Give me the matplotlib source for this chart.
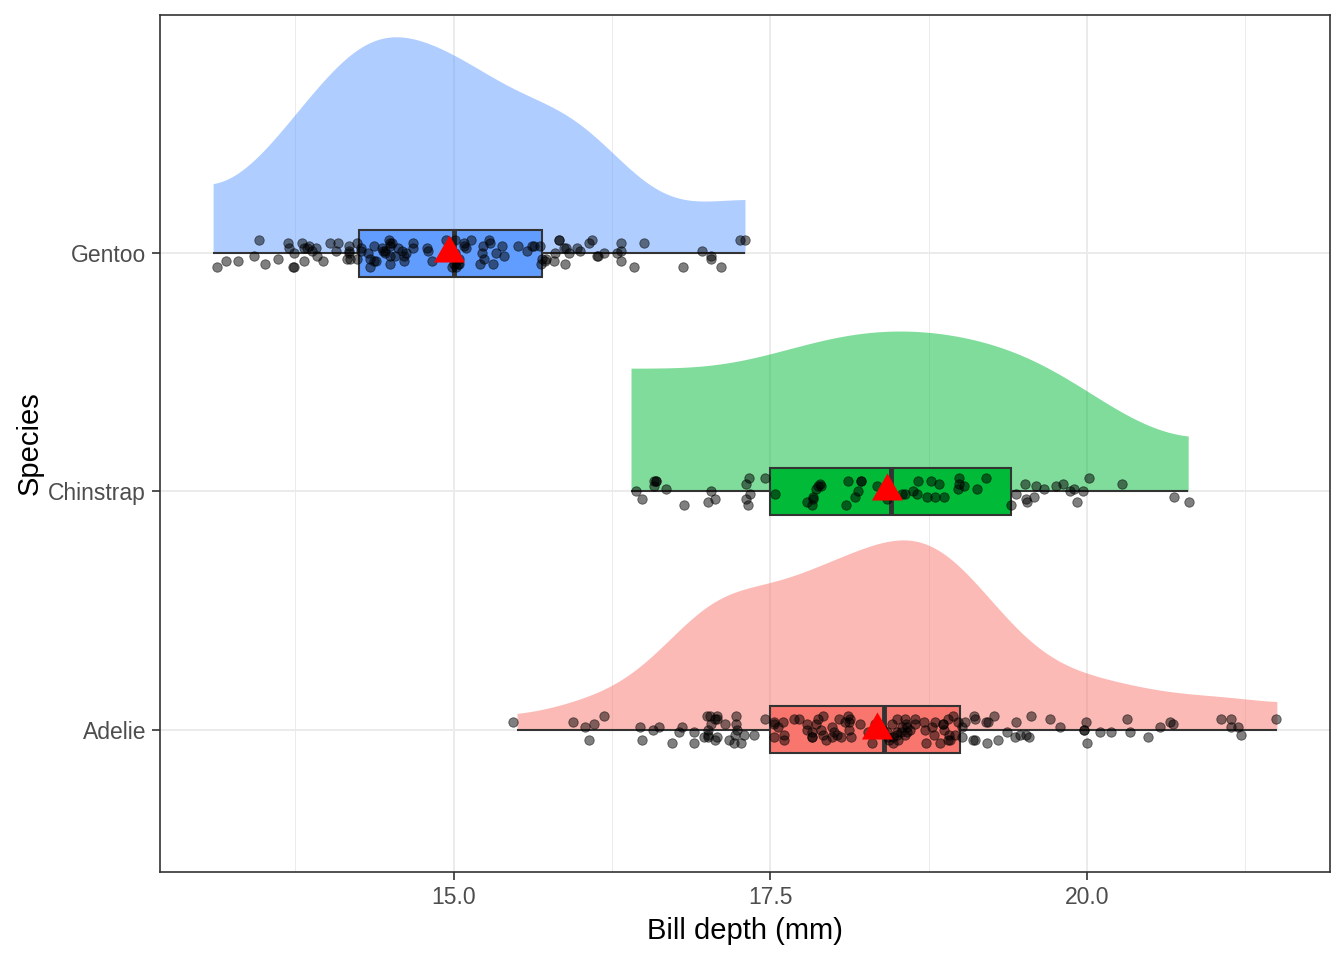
"""
raincloud of penguin bill depth by species
half density + boxplot + jittered points + mean marker
"""

import numpy as np
import matplotlib
matplotlib.use('Agg')
import matplotlib.pyplot as plt

species = ['Adelie', 'Chinstrap', 'Gentoo']
fill_cols = ['#F8766D', '#00BA38', '#619CFF']

adelie = [18.7, 17.4, 18.0, 19.3, 20.6, 17.8, 19.6, 18.1, 20.2, 17.1,
          17.3, 17.6, 21.2, 21.1, 17.8, 19.0, 20.7, 18.4, 21.5, 18.3,
          18.7, 19.2, 18.1, 17.2, 18.9, 18.6, 17.9, 18.6, 18.9, 16.7,
          18.1, 17.8, 18.9, 17.0, 21.1, 20.0, 18.5, 19.3, 19.1, 18.0,
          18.4, 18.5, 19.7, 16.9, 18.8, 19.0, 18.9, 17.9, 21.2, 17.7,
          18.9, 17.9, 19.5, 18.1, 18.6, 17.5, 18.8, 16.6, 19.1, 16.9,
          21.1, 17.0, 18.2, 17.1, 18.0, 16.2, 19.1, 16.6, 19.4, 19.0,
          18.4, 17.2, 18.9, 17.5, 18.5, 16.8, 19.4, 16.1, 19.1, 17.2,
          17.6, 18.8, 19.4, 17.8, 20.3, 19.5, 18.6, 19.2, 18.8, 18.0,
          18.1, 17.1, 18.1, 17.3, 18.9, 18.6, 18.5, 16.1, 18.5, 17.9,
          20.0, 16.0, 20.0, 18.6, 18.9, 17.2, 20.0, 17.0, 19.0, 16.5,
          20.3, 17.7, 19.5, 20.7, 18.3, 17.0, 20.5, 17.0, 18.6, 17.2,
          19.8, 17.0, 18.5, 15.9, 19.0, 17.6, 18.3, 17.1, 18.0, 17.9,
          19.2, 18.5, 18.5, 17.6, 17.5, 17.5, 20.1, 16.5, 17.9, 17.1,
          17.2, 15.5, 17.0, 16.8, 18.7, 18.6, 18.4, 17.8, 18.1, 17.1,
          18.5]
chinstrap = [17.9, 19.5, 19.2, 18.7, 19.8, 17.8, 18.2, 18.2, 18.9, 19.9,
             17.8, 20.3, 17.3, 18.1, 17.1, 19.6, 20.0, 17.8, 18.6, 18.2,
             17.3, 17.5, 16.6, 19.4, 17.9, 19.0, 18.4, 19.0, 17.8, 20.0,
             16.6, 20.8, 16.7, 18.8, 18.6, 16.8, 18.3, 20.7, 16.6, 19.9,
             19.5, 17.5, 19.1, 17.0, 17.9, 18.5, 17.9, 19.6, 18.7, 17.3,
             16.4, 19.0, 17.3, 19.7, 17.3, 18.8, 16.6, 19.9, 18.8, 19.4,
             19.5, 16.5, 17.0, 19.8, 18.1, 18.2, 19.0, 18.7]
gentoo = [13.2, 16.3, 14.1, 15.2, 14.5, 13.5, 14.6, 15.3, 13.4, 15.4,
          13.7, 16.1, 13.7, 14.6, 14.6, 15.7, 13.5, 15.2, 14.5, 15.1,
          14.3, 14.5, 14.5, 15.8, 13.1, 15.1, 14.3, 15.0, 14.3, 15.3,
          15.3, 14.2, 14.5, 17.0, 14.8, 16.3, 13.7, 17.3, 13.6, 15.7,
          13.7, 16.0, 13.7, 15.0, 15.9, 13.9, 13.9, 15.9, 13.3, 15.8,
          14.2, 14.1, 14.4, 15.0, 14.4, 15.4, 13.9, 15.0, 14.5, 15.3,
          13.8, 14.9, 13.9, 15.7, 14.2, 16.8, 14.4, 16.2, 14.2, 15.0,
          15.0, 15.6, 15.6, 14.8, 15.0, 16.0, 14.2, 16.3, 13.8, 16.4,
          14.5, 15.6, 14.6, 15.9, 13.8, 17.3, 14.4, 14.2, 14.0, 17.0,
          15.0, 17.1, 14.5, 16.1, 14.7, 15.7, 15.8, 14.6, 14.4, 16.5,
          15.0, 17.0, 15.5, 15.0, 13.8, 16.1, 14.7, 15.8, 14.0, 15.1,
          15.2, 15.9, 16.3, 14.2, 15.2, 14.5, 15.1, 14.3, 15.0, 14.3,
          15.7, 14.8, 16.1]

# vertical jitter of the points, in hundredths of a category step
jit_adelie = [3, -2, 4, -4, 1, -3, 5, 0, -1, 2,
              -5, 3, -2, 4, -3, 1, 2, -4, 4, -1,
              0, 3, -3, 5, -2, 1, -4, 2, 4, -5,
              3, -1, 2, -3, 4, 0, -2, 5, -4, 1,
              -3, 2, 4, -1, -5, 3, 0, -2, 1, 4,
              -4, 2, -3, 5, -1, 3, -2, 0, 4, -5,
              1, -3, 2, 4, -2, 5, -4, 1, -1, 3,
              0, -5, 2, -3, 4, -1, 3, -4, 5, -2,
              1, 3, -3, 0, 4, -2, 2, -5, 1, -1,
              4, -4, 3, -2, 5, 0, -3, 2, -1, 4,
              -5, 1, 3, -2, -4, 2, 0, 5, -3, 1,
              -1, 4, -2, 3, -5, 2, -3, 0, 4, -4,
              1, 5, -1, 3, -2, -4, 2, 4, -3, 0,
              3, -5, 1, -2, 4, 2, -1, -4, 5, -3,
              0, 3, -2, 1, -5, 4, -1, 2, -3, 5,
              -4]
jit_chinstrap = [2, -4, 5, -1, 3, -3, 0, 4, -2, 1,
                 -5, 3, -1, 4, -3, 2, 5, -4, 0, -2,
                 3, -1, 4, -5, 1, 2, -3, 5, -2, 0,
                 4, -4, 1, 3, -1, -5, 2, -2, 4, 0,
                 -3, 5, 1, -4, 3, -1, 2, -2, 4, -5,
                 0, 3, -3, 1, 5, -2, 2, -4, 4, -1,
                 3, -3, 0, 2, -5, 4, 1, -2]
jit_gentoo = [-3, 4, 1, -2, 5, -4, 2, 0, -1, 3,
              -5, 4, 2, -3, 1, -2, 5, 0, -4, 3,
              1, -1, 4, -3, -5, 2, 0, 3, -2, 5,
              -4, 1, 4, -1, 2, -3, 0, 5, -2, 3,
              -5, 1, 4, -4, 2, -1, 3, 0, -3, 5,
              -2, 4, 1, -5, 3, -1, 2, -4, 0, 4,
              -3, 5, 1, -2, 3, -5, 2, 0, 4, -1,
              -4, 3, 1, -3, 5, 2, -2, 0, 4, -5,
              1, 3, -1, -4, 2, 5, -3, 0, 4, -2,
              1, -5, 3, -1, 2, -4, 5, 0, -3, 4,
              -2, 1, 3, -5, 2, -1, 4, 0, -3, 5,
              -4, 2, 1, -2, 3, -1, 4, -5, 0, 2,
              -3, 1, 5]

# horizontal jitter of the points, in hundredths of a mm
xjit_adelie = [1, -3, 4, 0, -2, 3, -4, 2, -1, 4,
               -3, 0, 2, -4, 3, 1, -2, 4, -1, -3,
               2, 0, -4, 3, 1, -2, 4, -3, 0, 2,
               -1, 3, -4, 1, 4, -2, 0, -3, 2, -1,
               3, -4, 1, 0, 4, -2, -3, 2, -1, 3,
               0, -4, 4, 1, -2, 3, -1, -3, 2, 0,
               4, -2, 1, -4, 3, -1, 0, 2, -3, 4,
               -1, 1, -4, 3, 0, -2, 4, -3, 1, 2,
               -4, 0, 3, -1, 2, -3, 4, 1, -2, 0,
               3, -4, 2, -1, 4, 0, -3, 1, 3, -2,
               0, 4, -1, -4, 2, 3, -2, 0, 1, -3,
               4, -1, 2, -4, 0, 3, -2, 1, 4, -3,
               -1, 2, 0, 4, -4, 1, 3, -2, -1, 0,
               2, -3, 4, 1, -4, 3, 0, -1, 2, -2,
               4, -3, 1, 0, 3, -4, 2, -1, 4, -2,
               1]
xjit_chinstrap = [-2, 3, 0, -4, 1, 4, -1, 2, -3, 0,
                  3, -2, 4, 1, -4, 0, 2, -1, 3, -3,
                  1, 4, -2, 0, -4, 3, 2, -1, 4, -3,
                  0, 1, -2, 3, -4, 2, 4, -1, 0, -3,
                  2, -4, 3, 1, -1, 4, 0, -2, -3, 2,
                  4, -1, 1, -4, 3, 0, -2, 2, -3, 4,
                  1, -1, 3, -4, 0, 2, -2, 4]
xjit_gentoo = [0, 2, -3, 4, -1, 1, -4, 3, 2, -2,
               4, -3, 0, 1, -1, 3, -4, 2, 0, -2,
               -3, 4, 1, -1, 3, 0, 2, -4, 4, -2,
               1, -3, 0, 3, -1, 2, 4, -4, 1, -2,
               3, 0, -1, 4, -3, 2, -4, 1, 0, 3,
               -2, -1, 4, 2, -3, 0, 1, 3, -4, -1,
               2, 4, -2, 0, -3, 1, 3, -1, 4, -4,
               0, 2, -2, 3, 1, -3, 4, -1, 0, 2,
               -4, 3, 1, -2, 4, 0, -1, -3, 2, 3,
               -4, 1, 0, 4, -2, -1, 3, 2, -3, 0,
               4, -4, 1, -1, 2, 3, -2, 0, -3, 4,
               1, -1, 2, -4, 3, 0, -2, 4, 1, -3,
               2, 0, -1]

data = [adelie, chinstrap, gentoo]
yjitter = [jit_adelie, jit_chinstrap, jit_gentoo]
xjitter = [xjit_adelie, xjit_chinstrap, xjit_gentoo]

SQ2PI = np.sqrt(2 * np.pi)


def bw_sj_dpi(x):
    '''Sheather-Jones direct plug-in bandwidth, as R bw.SJ(method="dpi")'''
    n = len(x)
    dd = (x[:, None] - x[None, :]).ravel()

    def phi4(h):
        u = dd / h
        s = (np.exp(-u**2 / 2) * (u**4 - 6 * u**2 + 3)).sum()
        return s / (n * (n - 1) * h**5 * SQ2PI)

    def phi6(h):
        u = dd / h
        s = (np.exp(-u**2 / 2) * (u**6 - 15 * u**4 + 45 * u**2 - 15)).sum()
        return s / (n * (n - 1) * h**7 * SQ2PI)

    iqr = np.subtract(*np.percentile(x, [75, 25]))
    scale = min(x.std(ddof=1), iqr / 1.349)
    b = 1.23 * scale * n ** (-1 / 9)
    c1 = 1 / (2 * np.sqrt(np.pi) * n)
    td = -phi6(b)
    return (c1 / phi4((2.394 / (n * td)) ** (1 / 7))) ** (1 / 5)


def bounds_cooke(x):
    xs = np.sort(x)
    n = len(xs)
    i = np.arange(1, n + 1)
    w = (1 - (i - 1) / n) ** n - (1 - i / n) ** n
    return 2 * xs[0] - (w * xs).sum(), 2 * xs[-1] - (w[::-1] * xs).sum()


def kde_bounded(x, n=501):
    '''reflected gaussian density, evaluated inside the data range'''
    x = np.asarray(x, dtype=float)
    bw = bw_sj_dpi(x)
    lo, hi = bounds_cooke(x)
    grid = np.linspace(x.min(), x.max(), n)
    pts = np.concatenate([x, 2 * lo - x, 2 * hi - x])
    d = np.exp(-0.5 * ((grid[:, None] - pts[None, :]) / bw) ** 2).sum(axis=1)
    d = d / (len(x) * bw * SQ2PI)
    return grid, d


plt.rcParams['font.family'] = ['Liberation Sans', 'DejaVu Sans']

# triangle with its centroid on the point, like ggplot shape 17
tri = [(0, 18), (-15.5, -9), (15.5, -9), (0, 18)]

fig = plt.figure(figsize=(13.44, 9.6), dpi=100)
ax = fig.add_axes([0.119, 0.092, 0.8706, 0.892])

dens = [kde_bounded(d) for d in data]
dmax = max(d.max() for g, d in dens)
vheight = 0.91

for i, (vals, col) in enumerate(zip(data, fill_cols)):
    pos = i + 1
    vals = np.asarray(vals)
    grid, d = dens[i]
    ax.fill_between(grid, pos, pos + d / dmax * vheight, color=col,
                    alpha=0.5, linewidth=0, zorder=2)

    # line from min to max, then the box
    ax.plot([vals.min(), vals.max()], [pos, pos], color='#333333',
            lw=1.5, zorder=3, solid_capstyle='butt')
    q1, med, q3 = np.percentile(vals, [25, 50, 75])
    ax.add_patch(plt.Rectangle((q1, pos - 0.1), q3 - q1, 0.2, facecolor=col,
                               edgecolor='#333333', lw=1.5, zorder=4))
    ax.plot([med, med], [pos - 0.1, pos + 0.1], color='#333333', lw=3.5,
            zorder=5, solid_capstyle='butt')

    xj = vals + np.asarray(xjitter[i]) * 0.01
    yj = pos + np.asarray(yjitter[i]) * 0.011
    ax.scatter(xj, yj, s=46, facecolor=(0, 0, 0, 0.5),
               edgecolor=(0, 0, 0, 0.55), linewidth=0.6, zorder=6)

    ax.plot(vals.mean(), pos, marker=tri, ms=26, color='red',
            markeredgewidth=0, zorder=7)

ax.set_xlim(12.68, 21.92)
ax.set_ylim(0.403, 4.0)
ax.set_xticks([15.0, 17.5, 20.0])
ax.set_xticklabels(['15.0', '17.5', '20.0'])
ax.set_xticks([13.75, 16.25, 18.75, 21.25], minor=True)
ax.set_yticks([1, 2, 3])
ax.set_yticklabels(species)

ax.grid(True, which='major', color='#EBEBEB', lw=1.4, zorder=0)
ax.grid(True, which='minor', axis='x', color='#EBEBEB', lw=0.7, zorder=0)
ax.set_axisbelow(True)
ax.tick_params(which='major', length=6, width=1.2, color='#333333',
               labelsize=16.5, labelcolor='#4D4D4D', pad=4)
ax.tick_params(which='minor', length=0)
for s in ax.spines.values():
    s.set_color('#333333')
    s.set_linewidth(1.2)

ax.set_xlabel('Bill depth (mm)', fontsize=21, color='black', labelpad=6)
ax.set_ylabel('Species', fontsize=21, color='black', labelpad=3)

fig.savefig('out.png', dpi=100)
